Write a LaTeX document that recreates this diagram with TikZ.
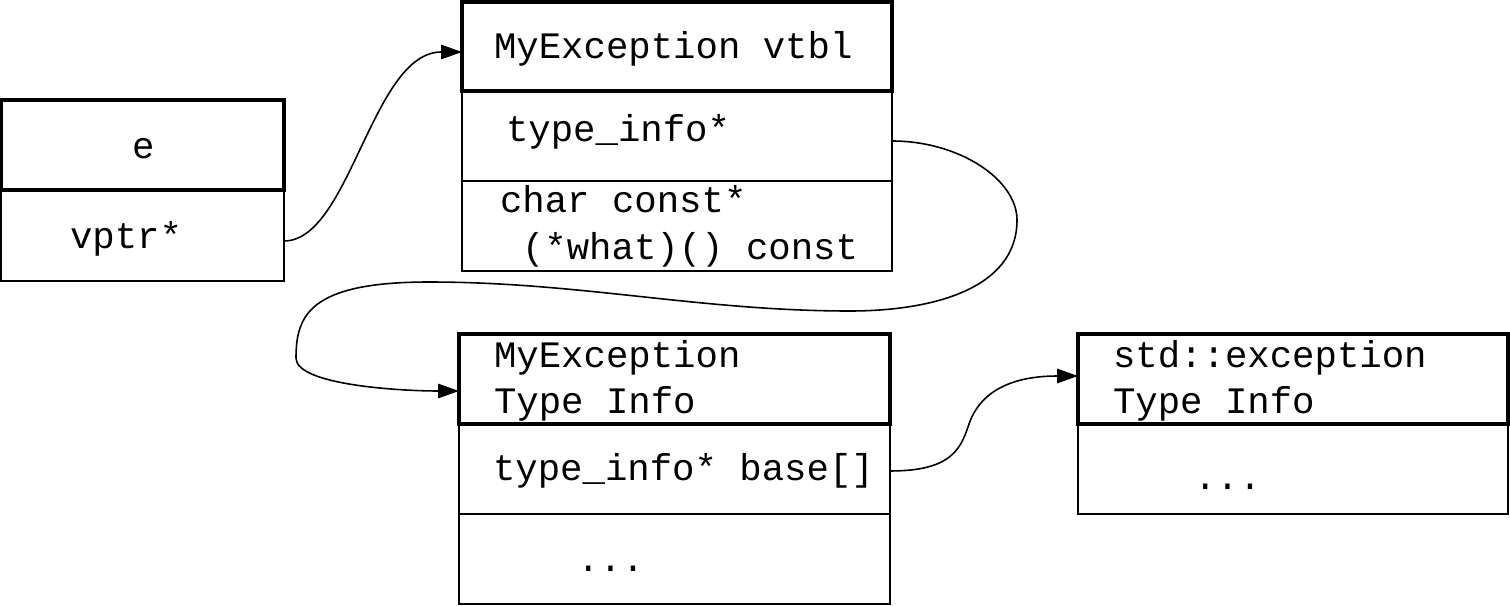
\documentclass[tikz,border=0pt]{standalone}
\usepackage{fontspec}
\setmonofont{Liberation Mono}
\usetikzlibrary{arrows.meta}
\begin{document}
\begin{tikzpicture}[x=0.02cm,y=-0.02cm,
  cell/.style={draw, line width=0.8pt, anchor=north west, inner sep=0, outer sep=0},
  head/.style={draw, line width=2pt, anchor=north west, inner sep=0, outer sep=0},
  lbl/.style={anchor=base west, inner sep=0, outer sep=0, font=\fontsize{21.25pt}{25pt}\selectfont\ttfamily},
  conn/.style={line width=0.9pt, -{Triangle[length=0.42cm,width=0.29cm]}}]
\useasboundingbox (0,0) rectangle (1510,605);
% box e
\node[cell, minimum width=5.66cm, minimum height=1.82cm] (eR) at (1,190) {};
\node[head, minimum width=5.66cm, minimum height=1.8cm] (eH) at (1,100) {};
% vtbl
\node[cell, minimum width=8.6cm, minimum height=1.8cm] (vR1) at (462,91) {};
\node[cell, minimum width=8.6cm, minimum height=1.8cm] (vR2) at (462,181) {};
\node[head, minimum width=8.6cm, minimum height=1.78cm] (vH) at (462,2) {};
% MyException type info
\node[cell, minimum width=8.62cm, minimum height=1.8cm] (tR1) at (459,424) {};
\node[cell, minimum width=8.62cm, minimum height=1.8cm] (tR2) at (459,514) {};
\node[head, minimum width=8.62cm, minimum height=1.8cm] (tH) at (459,334) {};
% std::exception type info
\node[cell, minimum width=8.6cm, minimum height=1.8cm] (sR1) at (1078,424) {};
\node[head, minimum width=8.6cm, minimum height=1.8cm] (sH) at (1078,334) {};
% labels
\node[lbl] (le) at (132,158) {e};
\node[lbl] (lvptr) at (70,248) {vptr*};
\node[lbl] (lvtbl) at (494,58) {MyException vtbl};
\node[lbl] (lti) at (506,141) {type\_info*};
\node[lbl] (lchar) at (500,212) {char const*};
\node[lbl] (lwhat) at (522,259) {(*what)() const};
\node[lbl] (ltiA) at (494,367) {MyException};
\node[lbl] (ltiB) at (494,413) {Type Info};
\node[lbl] (lbase) at (493,480) {type\_info* base[]};
\node[lbl] (ldotsA) at (577,571) {...};
\node[lbl] (lsA) at (1113,367) {std::exception};
\node[lbl] (lsB) at (1113,413) {Type Info};
\node[lbl] (ldotsB) at (1194,489) {...};
% connectors
\draw[conn] ([yshift=-0.11cm]eR.east) .. controls (350,241) and (372,52) .. ([yshift=-0.11cm]vH.west);
\draw[conn] ([yshift=-0.1cm]vR1.east) .. controls (960,141) and (1017,180) .. (1017,220)
  .. controls (1017,290) and (930,311) .. (850,311)
  .. controls (700,311) and (580,282) .. (429,282)
  .. controls (310,282) and (296,315) .. (296,358)
  .. controls (296,385) and (400,391) .. ([yshift=-0.24cm]tH.west);
\draw[conn] ([yshift=-0.04cm]tR1.east) .. controls (950,471) and (960,450) .. (968,427)
  .. controls (976,400) and (1000,376) .. ([yshift=0.06cm]sH.west);
\end{tikzpicture}
\end{document}
